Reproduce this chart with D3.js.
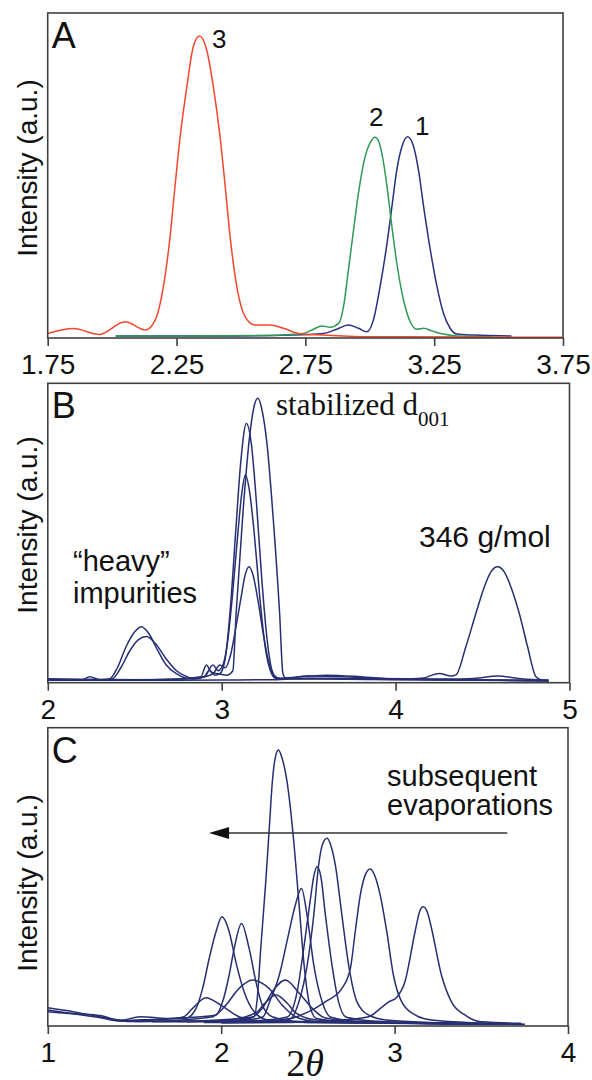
<!DOCTYPE html>
<html lang="en">
<head>
<meta charset="UTF-8">
<title>d001 diffraction patterns</title>
<script src="https://d3js.org/d3.v7.min.js"></script>
<style>
  body { margin: 0; background: #fff; }
  svg { display: block; }
  .frame { fill: none; stroke: #404040; stroke-width: 1.6px; }
  .trace { fill: none; stroke-width: 1.5px; stroke-linejoin: round; }
  .tick line { stroke: #404040; stroke-width: 1.6px; }
  .tick text { font: 28px Arial, "Liberation Sans", sans-serif; fill: #111; }
  .lbl { font-family: Arial, "Liberation Sans", sans-serif; fill: #111; }
  .serif { font-family: "Times New Roman", "Liberation Serif", serif; fill: #111; }
</style>
</head>
<body>
<div id="chart"></div>
<script>
// ---- panel A: three samples, [2theta, intensity]
const ticksA = [1.75, 2.25, 2.75, 3.25, 3.75];
const red3 = [[1.75,1.4],[1.85,2.9],[1.95,1.1],[2.05,5.0],[2.13,2.5],[2.167,5.5],[2.199,15.8],[2.225,31.2],[2.244,46.6],[2.264,61.9],[2.29,77.3],[2.315,89.6],[2.339,92.9],[2.367,88.6],[2.393,77.3],[2.419,61.9],[2.439,46.6],[2.458,31.2],[2.484,15.8],[2.516,6.6],[2.555,4.0],[2.613,4.0],[2.665,3.0],[2.723,1.4],[2.85,0.8],[3.0,0.4],[3.4,0.3],[3.75,0.2]];
const green2 = [[2.014,0.6],[2.3,0.6],[2.6,0.8],[2.743,1.4],[2.781,2.7],[2.814,3.7],[2.846,3.3],[2.879,4.5],[2.898,9.6],[2.917,20.9],[2.937,33.2],[2.956,44.5],[2.982,55.8],[3.002,60.2],[3.021,61.8],[3.037,60.0],[3.047,56.8],[3.067,46.6],[3.086,34.2],[3.105,23.0],[3.131,11.7],[3.157,5.0],[3.183,2.7],[3.209,3.0],[3.241,2.2],[3.286,1.2],[3.338,0.6],[3.48,0.4]];
const blue1 = [[2.014,0.6],[2.4,0.6],[2.7,0.9],[2.82,1.4],[2.872,2.7],[2.917,4.0],[2.956,3.0],[2.989,1.9],[3.014,5.5],[3.040,15.8],[3.067,29.1],[3.086,40.4],[3.105,51.7],[3.125,58.9],[3.147,61.9],[3.170,58.9],[3.189,51.7],[3.209,40.4],[3.235,27.1],[3.261,15.8],[3.286,7.6],[3.312,3.0],[3.338,1.2],[3.403,0.9],[3.55,0.6]];

// ---- panel B: stabilized samples
const ticksB = [2, 3, 4, 5];
const b1 = [[2.0,1.3],[2.2,1.0],[2.24,2.0],[2.3,1.0],[2.357,1.3],[2.40,5],[2.45,12],[2.50,17],[2.539,18.7],[2.58,16.5],[2.63,11],[2.68,6],[2.74,3],[2.80,1.5],[2.88,2],[2.912,5.9],[2.94,3.5],[2.98,3],[3.03,2.5],[3.064,4],[3.083,23.2],[3.122,56.6],[3.16,82],[3.185,92],[3.208,95],[3.232,91],[3.26,80],[3.294,56.6],[3.333,23.2],[3.352,3.1],[3.37,1.5],[3.5,1.4],[3.7,1.2],[4.2,1.0],[4.6,0.8],[4.88,0.6]];
const b2 = [[2.0,1.0],[2.3,0.9],[2.37,1.2],[2.42,5],[2.47,10.5],[2.52,14.3],[2.568,15.4],[2.62,13],[2.68,8],[2.74,4],[2.80,2],[2.835,1.2],[2.90,2],[2.93,4.2],[2.96,2.5],[2.99,3],[3.02,8],[3.05,25],[3.08,50],[3.11,74],[3.142,86.6],[3.17,80],[3.20,60],[3.23,35],[3.26,15],[3.29,4],[3.32,1.4],[3.6,1.2],[4.0,1.0],[4.5,0.8],[4.88,0.6]];
const b3 = [[2.0,1.2],[2.5,1.0],[2.8,1.3],[2.9,2],[2.95,5.9],[2.98,4],[3.0,5],[3.03,12],[3.06,28],[3.09,48],[3.115,63],[3.136,69.4],[3.16,64],[3.19,48],[3.22,28],[3.25,12],[3.28,4],[3.31,1.5],[3.6,2.5],[3.8,2],[4.0,1.2],[4.4,1.0],[4.88,0.8]];
const b4 = [[2.0,1.1],[2.6,1.0],[2.85,1.5],[2.95,3],[2.989,5.9],[3.02,5],[3.05,9],[3.08,18],[3.11,28],[3.135,36],[3.157,38.7],[3.18,36],[3.21,27],[3.24,16],[3.27,7],[3.30,2.5],[3.34,1.3],[3.5,2.2],[3.7,2.0],[3.9,1.4],[4.3,1.2],[4.45,1.4],[4.586,2.2],[4.72,1.3],[4.88,0.8]];
const b5 = [[2.0,0.8],[2.6,0.8],[3.0,0.9],[3.3,1.0],[3.5,1.5],[3.7,1.4],[4.0,1.2],[4.15,1.5],[4.252,3.1],[4.319,2.2],[4.347,2.6],[4.404,12],[4.462,23.2],[4.51,32],[4.548,37],[4.586,38.7],[4.625,37],[4.663,32],[4.711,23.2],[4.759,12],[4.807,2],[4.84,0.9],[4.88,0.7]];

// ---- panel C: subsequent evaporations
const ticksC = [1, 2, 3, 4];
const c1 = [[1.75,1.5],[2.0,1.8],[2.1,2.0],[2.19,3.1],[2.208,9.3],[2.228,26],[2.257,48.4],[2.276,65.1],[2.295,81.9],[2.312,90],[2.33,92.5],[2.35,90],[2.381,81.4],[2.414,64.6],[2.447,42.2],[2.479,19.9],[2.512,6.5],[2.55,2.5],[2.7,1.5],[3.0,1.2],[3.5,0.8],[3.75,0.5]];
const c2 = [[1.8,1.5],[2.2,1.5],[2.4,2.5],[2.448,8.1],[2.496,20.4],[2.534,37.2],[2.562,54],[2.585,61],[2.61,62.9],[2.635,60],[2.658,54],[2.696,37.2],[2.735,20.4],[2.783,8.1],[2.85,3.7],[2.95,2],[3.2,1.2],[3.6,0.6]];
const c3 = [[1.8,1.5],[2.2,1.8],[2.38,3],[2.438,11.5],[2.476,26],[2.515,42.8],[2.535,50.5],[2.553,53.4],[2.575,50],[2.601,37.2],[2.639,20.4],[2.677,8.1],[2.72,3],[2.85,1.8],[3.2,1.0],[3.6,0.6]];
const c4 = [[1.6,1.5],[2.1,1.8],[2.24,3],[2.283,8.7],[2.338,17.7],[2.381,28.8],[2.425,40],[2.463,46.1],[2.495,37.2],[2.534,20.4],[2.582,8.1],[2.63,3],[2.8,1.5],[3.2,1.0],[3.6,0.6]];
const c5 = [[1.9,1.2],[2.3,1.5],[2.505,4.8],[2.60,8.1],[2.696,12.6],[2.745,19.3],[2.773,31.6],[2.802,43.9],[2.83,50.5],[2.859,52.6],[2.888,50],[2.917,43.9],[2.955,31.6],[2.993,17.1],[3.041,8.1],[3.118,3.7],[3.213,2],[3.5,1.0],[3.75,0.6]];
const c6 = [[2.0,1.0],[2.4,1.2],[2.7,2.0],[2.851,3.1],[2.92,6],[2.966,8.1],[3.01,9.5],[3.06,14.9],[3.118,31.6],[3.145,38.5],[3.165,40.0],[3.19,38],[3.213,32.7],[3.27,17.1],[3.328,8.1],[3.405,3.7],[3.5,1.4],[3.73,0.9]];
const c7 = [[1.0,6.1],[1.146,4.8],[1.3,3.1],[1.43,2],[1.53,3.1],[1.72,2.5],[1.797,2.6],[1.855,5.9],[1.893,12.6],[1.931,22.7],[1.97,31.6],[2.004,36.6],[2.046,31.6],[2.084,21.6],[2.132,11.5],[2.19,4.8],[2.27,2],[2.5,1.2],[3.0,1.0],[3.6,0.6]];
const c8 = [[1.0,5.4],[1.15,4.2],[1.3,3.5],[1.43,1.8],[1.6,2.2],[1.8,2.8],[1.97,3.7],[2.008,8.1],[2.046,17.1],[2.075,26],[2.117,34.4],[2.161,26],[2.2,14.9],[2.237,7],[2.295,3.1],[2.45,1.5],[3.0,1.0],[3.6,0.6]];
const c9 = [[1.45,1.5],[1.7,1.8],[1.95,3.1],[2.027,7],[2.103,12.6],[2.18,15.4],[2.276,12.6],[2.352,7],[2.429,3.1],[2.55,1.5],[3.0,1.0],[3.6,0.6]];
const c10 = [[1.5,1.5],[1.9,1.8],[2.18,3],[2.237,5.9],[2.295,11.5],[2.37,15.4],[2.45,11],[2.534,5.4],[2.6,2.7],[2.8,1.5],[3.3,1.0],[3.7,0.6]];
const c11 = [[1.0,4.8],[1.15,4.0],[1.3,2.8],[1.43,1.6],[1.6,2],[1.72,2.5],[1.78,3],[1.835,5.9],[1.912,9.5],[1.998,7],[2.103,3.1],[2.25,1.5],[2.8,1.0],[3.5,0.6]];
const c12 = [[1.6,1.5],[2.0,1.8],[2.2,4.4],[2.251,7.6],[2.316,10.4],[2.381,7.6],[2.43,4.4],[2.55,2],[2.9,1.2],[3.5,0.6]];

const navy = "#272f72";

const svg = d3.select("#chart").append("svg")
    .attr("width", 592)
    .attr("height", 1080);

const line = (x, y) => d3.line()
    .x(d => x(d[0]))
    .y(d => y(d[1]))
    .curve(d3.curveMonotoneX);

// draw one panel: frame, bottom axis, traces
function panel(opt) {
    const x = d3.scaleLinear().domain(opt.domain).range([opt.left, opt.right]);
    const y = d3.scaleLinear().domain([0, 100]).range([opt.bottom, opt.top]);
    const g = svg.append("g");

    g.append("g")
        .attr("transform", "translate(0," + opt.bottom + ")")
        .call(d3.axisBottom(x).tickValues(opt.ticks).tickFormat(opt.fmt)
            .tickSize(8).tickPadding(8))
        .call(a => a.select(".domain").remove());

    const path = line(x, y);
    opt.series.forEach(s => {
        g.append("path")
            .attr("class", "trace")
            .attr("stroke", s.color)
            .attr("d", path(s.data));
    });

    g.append("rect")
        .attr("class", "frame")
        .attr("x", opt.left).attr("y", opt.top)
        .attr("width", opt.right - opt.left)
        .attr("height", opt.bottom - opt.top);

    // y label
    g.append("text")
        .attr("class", "lbl")
        .attr("transform", "translate(37," + opt.ylabY + ") rotate(-90)")
        .attr("text-anchor", "middle")
        .style("font-size", "28px")
        .text("Intensity (a.u.)");

    g.append("text")
        .attr("class", "lbl")
        .attr("x", opt.left + 4).attr("y", opt.top + 35)
        .style("font-size", "36px")
        .text(opt.letter);

    return {x, y, g};
}

const A = panel({
    left: 47.7, right: 563, top: 13, bottom: 338,
    domain: [1.75, 3.75], ticks: ticksA, fmt: d3.format(".2f"),
    ylabY: 168, letter: "A",
    series: [
        {data: blue1, color: "#2b2f7d"},
        {data: green2, color: "#2f9a55"},
        {data: red3, color: "#f2472c"}
    ]
});

const B = panel({
    left: 47.8, right: 569.5, top: 383.3, bottom: 682.7,
    domain: [2, 5], ticks: ticksB, fmt: d3.format("d"),
    ylabY: 525, letter: "B",
    series: [b5, b4, b3, b2, b1].map(d => ({data: d, color: navy}))
});

const C = panel({
    left: 47.8, right: 568, top: 727.7, bottom: 1026,
    domain: [1, 4], ticks: ticksC, fmt: d3.format("d"),
    ylabY: 883, letter: "C",
    series: [c1, c2, c3, c4, c5, c6, c7, c8, c9, c10, c11, c12].map(d => ({data: d, color: navy}))
});

// annotations A
const numLbl = [["3", 212, 48], ["2", 369, 126], ["1", 415, 135]];
numLbl.forEach(n => {
    A.g.append("text").attr("class", "lbl")
        .attr("x", n[1]).attr("y", n[2])
        .style("font-size", "26px").text(n[0]);
});

// annotations B
const stab = B.g.append("text").attr("class", "serif")
    .attr("x", 276).attr("y", 415)
    .style("font-size", "31px");
stab.append("tspan").text("stabilized d");
stab.append("tspan").attr("dy", 11).style("font-size", "21px").text("001");

B.g.append("text").attr("class", "lbl").attr("x", 73).attr("y", 571)
    .style("font-size", "29px").text("\u201cheavy\u201d");
B.g.append("text").attr("class", "lbl").attr("x", 73).attr("y", 603)
    .style("font-size", "29px").text("impurities");
B.g.append("text").attr("class", "lbl").attr("x", 419).attr("y", 547)
    .style("font-size", "30px").text("346 g/mol");

// annotations C
C.g.append("text").attr("class", "lbl").attr("x", 387).attr("y", 786)
    .style("font-size", "29px").text("subsequent");
C.g.append("text").attr("class", "lbl").attr("x", 387).attr("y", 815)
    .style("font-size", "29px").text("evaporations");

C.g.append("line")
    .attr("x1", C.x(3.65)).attr("x2", C.x(1.99))
    .attr("y1", 833).attr("y2", 833)
    .attr("stroke", "#333").attr("stroke-width", 1.6);
const tip = C.x(1.93);
C.g.append("path")
    .attr("d", "M" + tip + ",833 L" + (tip + 20) + ",827 L" + (tip + 20) + ",839 Z")
    .attr("fill", "#111");

const xt = svg.append("text").attr("class", "serif")
    .attr("x", 305).attr("y", 1076)
    .attr("text-anchor", "middle")
    .style("font-size", "38px");
xt.append("tspan").text("2");
xt.append("tspan").style("font-style", "italic").text("\u03b8");
</script>
</body>
</html>
